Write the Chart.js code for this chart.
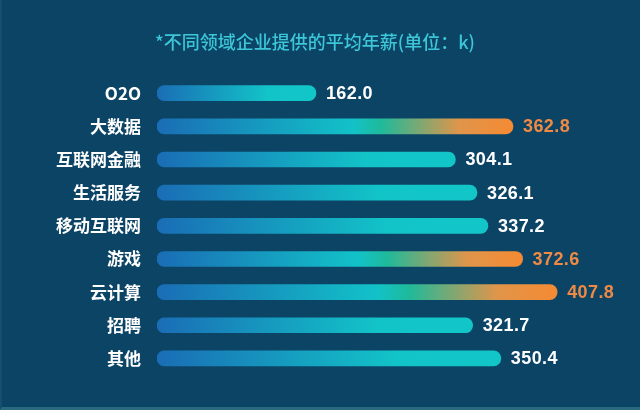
<!DOCTYPE html>
<html>
<head>
<meta charset="utf-8">
<script src="https://cdn.jsdelivr.net/npm/chart.js@4.4.1/dist/chart.umd.min.js"></script>
<style>
  html, body { margin: 0; padding: 0; background: #0c4466; }
  #wrap { width: 640px; height: 410px; position: relative; box-sizing: border-box;
          border-left: 2px solid #13506f; border-bottom: 3px solid #2a6a80; }
</style>
</head>
<body>
<div id="wrap"><canvas id="chart"></canvas></div>
<script>
const categories = ["O2O", "大数据", "互联网金融", "生活服务", "移动互联网", "游戏", "云计算", "招聘", "其他"];
const salaries = [162.0, 362.8, 304.1, 326.1, 337.2, 372.6, 407.8, 321.7, 350.4];
const highlighted = ["大数据", "游戏", "云计算"];

const FONT = "'Noto Sans CJK SC', 'Noto Sans', sans-serif";
const ORANGE = "#ef8a45";

const isHot = (i) => highlighted.includes(categories[i]);

function barFill(ctx) {
  const chart = ctx.chart;
  const x = chart.scales.x;
  if (!x || ctx.dataIndex == null) return "#14b8c4";
  const x0 = x.getPixelForValue(0);
  const x1 = x.getPixelForValue(salaries[ctx.dataIndex]);
  if (!isFinite(x0) || !isFinite(x1) || x1 <= x0) return "#14b8c4";
  const g = chart.ctx.createLinearGradient(x0, 0, x1, 0);
  g.addColorStop(0, "#1a6db5");
  if (isHot(ctx.dataIndex)) {
    g.addColorStop(0.55, "#12c2c8");
    g.addColorStop(0.63, "#1fba9a");
    g.addColorStop(0.85, "#e0954a");
    g.addColorStop(1, "#f58a33");
  } else {
    g.addColorStop(0.7, "#12c4c8");
    g.addColorStop(1, "#12c6c8");
  }
  return g;
}

// value labels at the end of each bar
const valueLabels = {
  id: "valueLabels",
  afterDatasetsDraw(chart) {
    const c = chart.ctx;
    const meta = chart.getDatasetMeta(0);
    c.save();
    c.font = "bold 18px 'Liberation Sans', Arial, sans-serif";
    c.letterSpacing = "0.4px";
    c.textBaseline = "middle";
    c.textAlign = "left";
    meta.data.forEach((bar, i) => {
      c.fillStyle = isHot(i) ? ORANGE : "#ffffff";
      c.fillText(salaries[i].toFixed(1), bar.x + 10, bar.y + 1);
    });
    c.restore();
  },
};

new Chart(document.getElementById("chart"), {
  type: "bar",
  data: {
    labels: categories,
    datasets: [{
      data: salaries,
      backgroundColor: barFill,
      borderRadius: 8,
      borderSkipped: false,
      barThickness: 15,
    }],
  },
  options: {
    indexAxis: "y",
    responsive: true,
    maintainAspectRatio: false,
    animation: false,
    layout: { padding: { top: 10, right: 12, bottom: 32, left: 0 } },
    scales: {
      x: { display: false, min: 0, max: 480 },
      y: {
        grid: { display: false, drawTicks: false },
        border: { display: false },
        ticks: { color: "#ffffff", padding: 16, font: { family: FONT, size: 17, weight: "bold" } },
        afterFit: (s) => { s.width = 155; },
      },
    },
    plugins: {
      legend: { display: false },
      tooltip: { enabled: false },
      title: {
        display: true,
        text: "*不同领域企业提供的平均年薪(单位：k)",
        color: "#3cc6d8",
        font: { family: FONT, size: 18, weight: "500", lineHeight: 1.2 },
        padding: { top: 21, bottom: 24 },
      },
    },
  },
  plugins: [valueLabels],
});
</script>
</body>
</html>
